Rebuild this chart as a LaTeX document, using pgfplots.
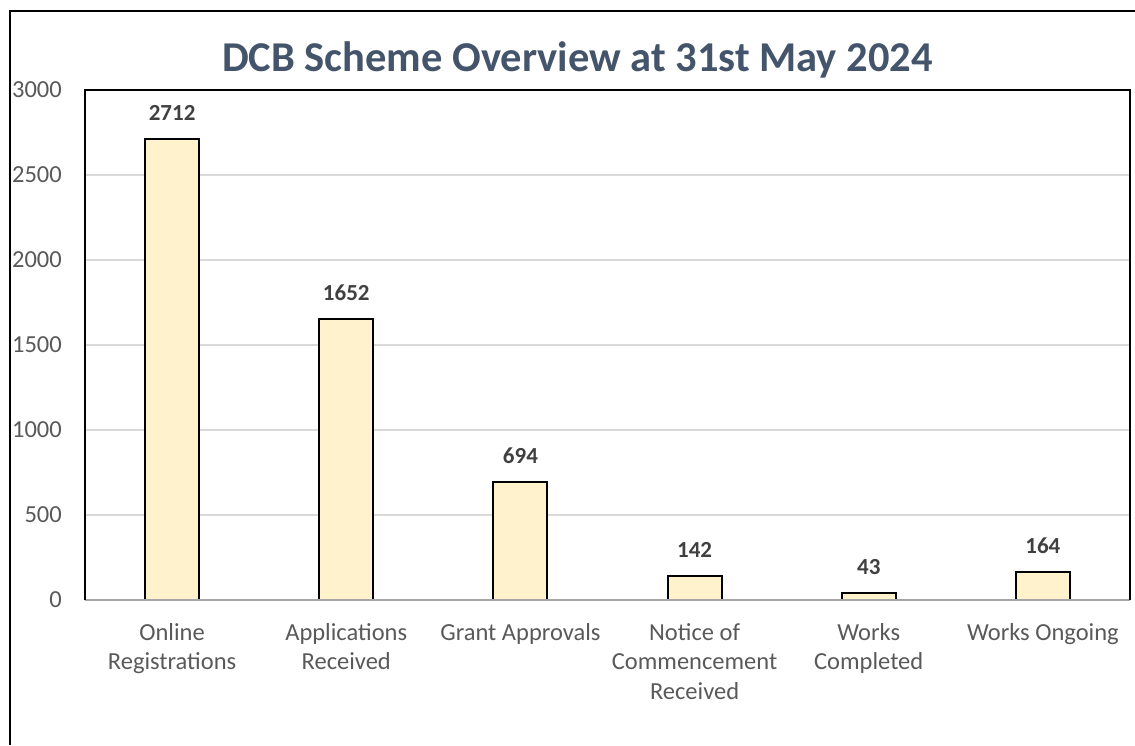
\documentclass[border=0pt]{standalone}
\usepackage{pgfplots}
\pgfplotsset{compat=1.18}
\usepackage{fontspec}
\setmainfont{Carlito}
\definecolor{barfill}{HTML}{FFF2CC}
\definecolor{gridgray}{HTML}{D9D9D9}
\definecolor{axisgray}{HTML}{A6A6A6}
\definecolor{lblgray}{HTML}{595959}
\definecolor{lbldark}{HTML}{404040}
\definecolor{titlecol}{HTML}{44546A}
\begin{document}
\begin{tikzpicture}
\path[use as bounding box] (0,0) rectangle (1135pt,745pt);
\draw[black, line width=2pt] (10pt,0pt) -- (10pt,734pt) -- (1135pt,734pt);
\node[anchor=base, font=\bfseries\fontsize{42.5}{48}\selectfont, text=titlecol, inner sep=0pt] at (577.5pt,673pt) {DCB Scheme Overview at 31st May 2024};
\begin{axis}[
  at={(85pt,145pt)}, anchor=south west,
  width=1045pt, height=510pt, scale only axis,
  xmin=-0.5, xmax=5.5, ymin=0, ymax=3000,
  ytick={0,500,...,3000},
  xtick=data,
  xticklabels={{Online\\Registrations},{Applications\\Received},{Grant Approvals},{Notice of\\Commencement\\Received},{Works\\Completed},{Works Ongoing}},
  ymajorgrids, major grid style={draw=gridgray, line width=1.3pt},
  axis line style={draw=none},
  tick style={draw=none},
  ticklabel style={font=\fontsize{24.5}{29.5}\selectfont, text=lblgray},
  yticklabel style={inner sep=0pt, anchor=east, xshift=-23pt},
  xticklabel style={align=center, inner sep=0pt, anchor=north, yshift=-19pt},
  /pgf/number format/assume math mode=true,
  /pgf/number format/1000 sep={},
  ybar, bar width=54pt,
  nodes near coords,
  nodes near coords style={font=\bfseries\fontsize{23}{27}\selectfont, text=lbldark, anchor=south, inner sep=0pt, yshift=17pt},
  clip=false,
]
\addplot[fill=barfill, draw=black, line width=2pt] coordinates {(0,2712) (1,1652) (2,694) (3,142) (4,43) (5,164)};
\draw[axisgray, line width=1.5pt] (rel axis cs:0,0) -- (rel axis cs:1,0);
\draw[black, line width=2pt] (rel axis cs:0,0) -- (rel axis cs:0,1) -- (rel axis cs:1,1) -- (rel axis cs:1,0);
\end{axis}
\end{tikzpicture}
\end{document}
